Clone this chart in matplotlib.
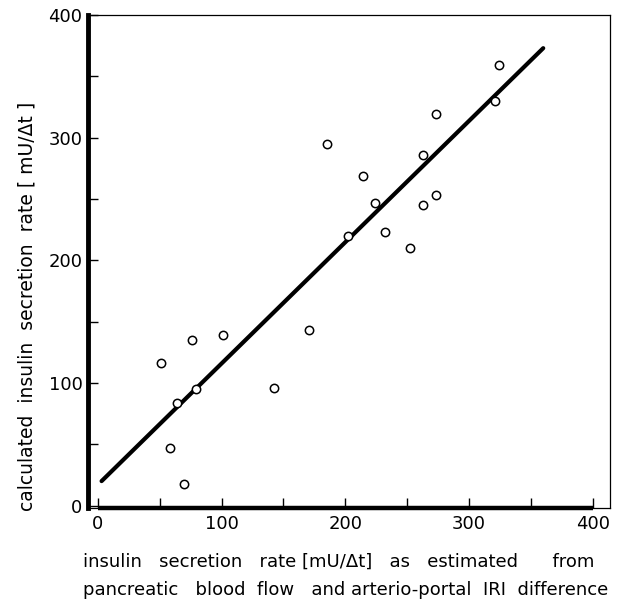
import numpy as np
import matplotlib.pyplot as plt
from matplotlib.ticker import MultipleLocator

# values
x_est = [51, 76, 101, 171, 64, 79, 142, 58, 70,
         324, 321, 273, 185, 263, 214, 224, 273, 263, 202, 232, 252]
y_calc = [116, 135, 139, 143, 84, 95, 96, 47, 18,
          359, 330, 319, 295, 286, 269, 247, 253, 245, 220, 223, 210]
fit_x = [3, 360]
fit_y = [20, 373]

fig = plt.figure(figsize=(6.17, 6.02), dpi=100, facecolor="white")
ax = fig.add_axes([0.1426, 0.156, 0.8461, 0.819])

ax.plot(fit_x, fit_y, color="black", linewidth=3, solid_capstyle="round", zorder=2)
ax.plot(x_est, y_calc, "o", markersize=6, markerfacecolor="white",
        markeredgecolor="black", markeredgewidth=1.1, zorder=3)

ax.set_xlim(-8, 414)
ax.set_ylim(-2, 400)

for s in ["top", "right", "bottom"]:
    ax.spines[s].set_linewidth(0.9)
ax.spines["left"].set_linewidth(3.5)
ax.hlines(-2, 0, 400, color="black", linewidth=3.2, clip_on=False, zorder=4)

ax.xaxis.set_major_locator(MultipleLocator(100))
ax.xaxis.set_minor_locator(MultipleLocator(50))
ax.yaxis.set_major_locator(MultipleLocator(100))
ax.yaxis.set_minor_locator(MultipleLocator(50))
ax.tick_params(which="both", direction="in", width=1, length=7,
               top=False, right=False, labelsize=13)
ax.tick_params(axis="y", pad=4)
ax.tick_params(axis="x", pad=5)

ax.set_ylabel("calculated  insulin  secretion  rate [ mU/\u0394t ]", fontsize=13.5)
ax.yaxis.set_label_coords(-0.098, 0.41)
ax.set_xlabel("insulin   secretion   rate [mU/\u0394t]   as   estimated      from\n"
              "pancreatic   blood  flow   and arterio-portal  IRI  difference",
              fontsize=13, linespacing=1.75, multialignment="left")
ax.xaxis.set_label_coords(0.494, -0.091)

fig.savefig("out.png", dpi=100)
